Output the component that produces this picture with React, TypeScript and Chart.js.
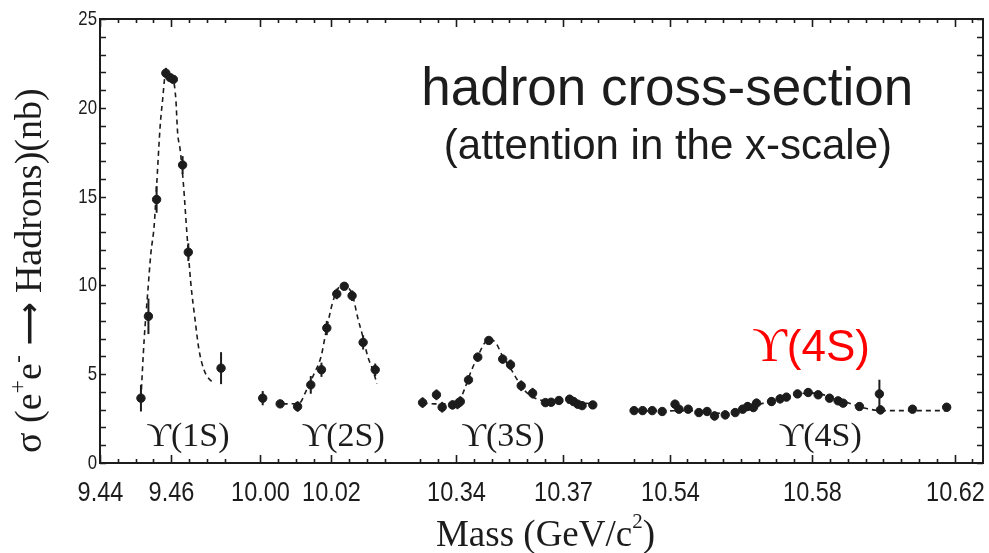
import React, { useEffect, useRef } from 'react';
import { Chart, registerables } from 'chart.js';
Chart.register(...registerables);

// ---- broken x-axis definition (four mass windows, 0.005 GeV per minor tick) ----
const SEG_START = [9.44, 10.0, 10.33, 10.53];
const SEG_END = [9.475, 10.035, 10.38, 10.625];
const SEG_OFFSET = [0, 9, 18, 30];
const TICK_STEP = 0.005;
const AXIS_MAX = 49.6;
const MAJOR_TICKS = [9.44, 9.46, 10.0, 10.02, 10.34, 10.37, 10.54, 10.58, 10.62];
const MAJOR_LABELS = ['9.44', '9.46', '10.00', '10.02', '10.34', '10.37', '10.54', '10.58', '10.62'];
const Y_TICK_LABELS = [0, 5, 10, 15, 20, 25];

// ---- Upsilon(1S) ----
const ups1Mass = [9.4515, 9.4536, 9.4559, 9.4585, 9.4597, 9.4606, 9.4632, 9.4648, 9.474];
const ups1Sigma = [3.65, 8.26, 14.84, 21.95, 21.7, 21.6, 16.78, 11.87, 5.34];
const ups1Err = [0.75, 1.0, 0.75, 0.3, 0.2, 0.2, 0.5, 0.5, 0.9];
const fit1Mass = [9.4515, 9.4524, 9.4534, 9.4543, 9.4552, 9.4559, 9.4569, 9.4576, 9.4583, 9.4595, 9.4606, 9.4613, 9.4618, 9.4625, 9.4634, 9.4644, 9.4655, 9.4667, 9.4678, 9.4692, 9.4709, 9.4723];
const fit1Sigma = [3.65, 6.94, 9.58, 11.83, 13.34, 15.6, 18.98, 20.48, 21.8, 21.99, 21.6, 20.48, 18.6, 17.66, 15.78, 12.96, 10.14, 8.07, 6.38, 5.25, 4.68, 4.53];

// ---- Upsilon(2S) ----
const ups2Mass = [10.0007, 10.0056, 10.0105, 10.0142, 10.0172, 10.0187, 10.0215, 10.0236, 10.0258, 10.0289, 10.0323];
const ups2Sigma = [3.65, 3.33, 3.18, 4.4, 5.25, 7.6, 9.52, 9.95, 9.42, 6.79, 5.25];
const ups2Err = [0.4, 0.2, 0.3, 0.5, 0.4, 0.4, 0.3, 0.15, 0.3, 0.4, 0.35];
const fit2Mass = [10.0063, 10.011, 10.0128, 10.0152, 10.0171, 10.0185, 10.0203, 10.0217, 10.0231, 10.0246, 10.026, 10.0274, 10.0288, 10.0302, 10.0316, 10.0328];
const fit2Sigma = [3.33, 3.37, 4.02, 5.06, 6.0, 7.41, 9.01, 9.76, 10.05, 9.92, 9.39, 8.17, 7.13, 6.0, 5.25, 4.46];

// ---- Upsilon(3S) ----
const ups3Mass = [10.3306, 10.3345, 10.3361, 10.339, 10.3404, 10.3412, 10.3435, 10.3461, 10.3492, 10.3531, 10.3553, 10.3583, 10.3615, 10.3651, 10.3667, 10.3689, 10.3719, 10.373, 10.3742, 10.3754, 10.3784];
const ups3Sigma = [3.4, 3.84, 3.14, 3.27, 3.33, 3.46, 4.68, 5.96, 6.9, 5.85, 5.53, 4.35, 3.93, 3.4, 3.42, 3.52, 3.59, 3.46, 3.31, 3.23, 3.27];
const ups3Err = [0.3, 0.3, 0.3, 0.25, 0.3, 0.3, 0.25, 0.25, 0.2, 0.25, 0.3, 0.3, 0.3, 0.2, 0.2, 0.2, 0.25, 0.2, 0.2, 0.15, 0.2];
const fit3Mass = [10.3306, 10.3345, 10.3385, 10.3409, 10.3423, 10.3442, 10.3461, 10.348, 10.3494, 10.3512, 10.3531, 10.355, 10.3569, 10.3587, 10.3606, 10.3634, 10.3672, 10.3728, 10.3794];
const fit3Sigma = [3.38, 3.33, 3.33, 3.5, 4.12, 5.15, 6.0, 6.75, 6.98, 6.75, 6.0, 5.43, 4.78, 4.21, 3.84, 3.56, 3.46, 3.4, 3.33];

// ---- Upsilon(4S) ----
const ups4Mass = [10.53, 10.5324, 10.5351, 10.5379, 10.5415, 10.5426, 10.5452, 10.5482, 10.5505, 10.5526, 10.5556, 10.5584, 10.5605, 10.5619, 10.5635, 10.5644, 10.5686, 10.571, 10.5728, 10.5759, 10.5789, 10.5817, 10.5849, 10.5873, 10.5887, 10.5933, 10.5989, 10.5992, 10.6082, 10.6178];
const ups4Sigma = [2.95, 2.95, 2.95, 2.9, 3.31, 3.03, 3.03, 2.84, 2.9, 2.65, 2.71, 2.84, 3.03, 3.18, 3.12, 3.37, 3.46, 3.61, 3.71, 3.89, 3.97, 3.84, 3.65, 3.5, 3.37, 3.18, 3.89, 2.99, 3.03, 3.14];
const ups4Err = [0.15, 0.15, 0.15, 0.15, 0.25, 0.2, 0.2, 0.2, 0.2, 0.25, 0.25, 0.2, 0.2, 0.25, 0.2, 0.25, 0.25, 0.25, 0.2, 0.2, 0.2, 0.2, 0.2, 0.2, 0.2, 0.2, 0.8, 0.25, 0.2, 0.2];
const fit4Mass = [10.53, 10.537, 10.5454, 10.551, 10.5552, 10.5593, 10.5635, 10.5677, 10.5719, 10.5761, 10.5794, 10.583, 10.5872, 10.5914, 10.5956, 10.5998, 10.618];
const fit4Sigma = [2.95, 2.93, 2.95, 2.85, 2.8, 2.95, 3.2, 3.45, 3.7, 3.88, 3.95, 3.85, 3.6, 3.3, 3.05, 2.95, 2.95];

// ---- text labels (data coordinates) ----
const peakLabels = ['ϒ(1S)', 'ϒ(2S)', 'ϒ(3S)', 'ϒ(4S)'];
const peakLabelMass = [9.4647, 10.0233, 10.3532, 10.5823];
const peakLabelSigma = 1.45;

const INK = '#1c1c1c';
const SERIF = "'Liberation Serif', 'Times New Roman', serif";
const SANS = "'Liberation Sans', Arial, sans-serif";

function toAxis(m: number): number {
  let i = 0;
  for (let k = 0; k < SEG_START.length; k++) if (m >= SEG_START[k] - 0.004) i = k;
  return SEG_OFFSET[i] + (m - SEG_START[i]) / TICK_STEP;
}

const tickValues: number[] = [];
const tickMajor: boolean[] = [];
const tickLabel: string[] = [];
SEG_START.forEach((s, i) => {
  const n = Math.round((SEG_END[i] - s) / TICK_STEP);
  for (let j = 0; j <= n; j++) {
    const m = s + j * TICK_STEP;
    const mi = MAJOR_TICKS.findIndex((t) => Math.abs(t - m) < 1e-6);
    tickValues.push(toAxis(m));
    tickMajor.push(mi >= 0);
    tickLabel.push(mi >= 0 ? MAJOR_LABELS[mi] : '');
  }
});

function pts(mass: number[], sig: number[], err?: number[]) {
  return mass.map((m, i) => ({ x: toAxis(m), y: sig[i], err: err ? err[i] : 0 }));
}

const allPoints = [
  ...pts(ups1Mass, ups1Sigma, ups1Err),
  ...pts(ups2Mass, ups2Sigma, ups2Err),
  ...pts(ups3Mass, ups3Sigma, ups3Err),
  ...pts(ups4Mass, ups4Sigma, ups4Err),
];

const fitStyle = {
  type: 'line' as const,
  borderColor: INK,
  borderWidth: 1.6,
  borderDash: [5, 4],
  pointRadius: 0,
  cubicInterpolationMode: 'monotone' as const,
  fill: false,
};

// draw text horizontally condensed (narrow face look)
function narrowText(ctx: any, s: string, x: number, y: number, size: number, squeeze: number, align: string) {
  ctx.save();
  ctx.font = `${size}px ${SANS}`;
  ctx.textAlign = align;
  ctx.textBaseline = 'middle';
  ctx.translate(x, y);
  ctx.scale(squeeze, 1);
  ctx.fillText(s, 0, 0);
  ctx.restore();
}

const decorPlugin = {
  id: 'decor',
  afterDatasetsDraw(chart: any) {
    const { ctx, scales } = chart;
    const x = scales.x;
    const y = scales.y;
    ctx.save();
    ctx.strokeStyle = INK;
    ctx.lineWidth = 2;
    chart.data.datasets[0].data.forEach((d: any) => {
      if (!d.err) return;
      const px = x.getPixelForValue(d.x);
      ctx.beginPath();
      ctx.moveTo(px, y.getPixelForValue(d.y - d.err));
      ctx.lineTo(px, y.getPixelForValue(d.y + d.err));
      ctx.stroke();
    });
    ctx.restore();
  },
  afterDraw(chart: any) {
    const { ctx, chartArea: a, scales } = chart;
    const x = scales.x;
    const y = scales.y;
    ctx.save();
    // frame
    ctx.strokeStyle = INK;
    ctx.lineWidth = 2;
    ctx.strokeRect(a.left, a.top, a.right - a.left, a.bottom - a.top);
    // x ticks (inward, bottom and top) + labels
    ctx.lineWidth = 1.6;
    ctx.fillStyle = INK;
    tickValues.forEach((v, i) => {
      const px = Math.round(x.getPixelForValue(v)) + 0.5;
      const len = tickMajor[i] ? 8 : 4;
      ctx.beginPath();
      ctx.moveTo(px, a.bottom);
      ctx.lineTo(px, a.bottom - len);
      ctx.moveTo(px, a.top);
      ctx.lineTo(px, a.top + len);
      ctx.stroke();
      if (tickLabel[i]) narrowText(ctx, tickLabel[i], px, a.bottom + 30, 28, 0.84, 'center');
    });
    // y ticks (inward, left and right) + labels
    for (let v = 0; v <= 25; v++) {
      const py = Math.round(y.getPixelForValue(v)) + 0.5;
      const len = 6;
      ctx.beginPath();
      ctx.moveTo(a.left, py);
      ctx.lineTo(a.left + len, py);
      ctx.moveTo(a.right, py);
      ctx.lineTo(a.right - len, py);
      ctx.stroke();
      if (Y_TICK_LABELS.includes(v)) narrowText(ctx, String(v), a.left - 3, py, 21, 0.8, 'right');
    }

    // peak labels
    ctx.fillStyle = INK;
    ctx.textAlign = 'center';
    ctx.textBaseline = 'middle';
    ctx.font = `34px ${SERIF}`;
    peakLabels.forEach((t, i) => {
      ctx.fillText(t, x.getPixelForValue(toAxis(peakLabelMass[i])), y.getPixelForValue(peakLabelSigma));
    });

    // headline text
    ctx.textBaseline = 'alphabetic';
    ctx.font = `53px ${SANS}`;
    ctx.fillText('hadron cross-section', x.getPixelForValue(toAxis(10.5393)), y.getPixelForValue(20.15));
    ctx.font = `42px ${SANS}`;
    ctx.fillText('(attention in the x-scale)', x.getPixelForValue(toAxis(10.5395)), y.getPixelForValue(17.1));

    // red Y(4S): serif upsilon + sans (4S)
    ctx.fillStyle = '#ff0000';
    ctx.textAlign = 'left';
    const upsFont = `48px ${SERIF}`;
    const restFont = `44px ${SANS}`;
    ctx.font = upsFont;
    const wu = ctx.measureText('ϒ').width;
    ctx.font = restFont;
    const wr = ctx.measureText('(4S)').width;
    const rcx = x.getPixelForValue(toAxis(10.5797));
    const rby = y.getPixelForValue(5.75);
    ctx.font = upsFont;
    ctx.fillText('ϒ', rcx - (wu + wr) / 2, rby);
    ctx.font = restFont;
    ctx.fillText('(4S)', rcx - (wu + wr) / 2 + wu, rby);

    // x title with superscript
    ctx.fillStyle = INK;
    ctx.textAlign = 'left';
    const big = `37px ${SERIF}`;
    const small = `21px ${SERIF}`;
    ctx.font = big;
    const p1 = 'Mass (GeV/c';
    const p3 = ')';
    const w1 = ctx.measureText(p1).width;
    const w3 = ctx.measureText(p3).width;
    ctx.font = small;
    const w2 = ctx.measureText('2').width;
    const total = w1 + w2 + w3;
    const cx = (a.left + a.right) / 2 + 4;
    let sx = cx - total / 2;
    const by = 546;
    ctx.font = big;
    ctx.fillText(p1, sx, by);
    sx += w1;
    ctx.font = small;
    ctx.fillText('2', sx, by - 18);
    sx += w2;
    ctx.font = big;
    ctx.fillText(p3, sx, by);

    // y title (rotated) with superscripts and a long arrow
    ctx.save();
    ctx.translate(41, 453);
    ctx.rotate(-Math.PI / 2);
    const parts: [string, string][] = [
      ['σ (e', 'n'],
      ['+', 's'],
      ['e', 'n'],
      ['-', 's'],
      [' ', 'n'],
      ['⟶', 'a'],
      [' Hadrons)(nb)', 'n'],
    ];
    let tx = 0;
    parts.forEach(([s, kind]) => {
      if (kind === 's') ctx.font = `24px ${SERIF}`;
      else if (kind === 'a') ctx.font = `bold 30px 'DejaVu Sans', sans-serif`;
      else ctx.font = `38px ${SERIF}`;
      ctx.fillText(s, tx, kind === 's' ? -16 : kind === 'a' ? -2 : 0);
      tx += ctx.measureText(s).width;
    });
    ctx.restore();

    ctx.restore();
  },
};

export default function App() {
  const ref = useRef<HTMLCanvasElement>(null);
  useEffect(() => {
    const chart = new Chart(ref.current as HTMLCanvasElement, {
      type: 'scatter',
      data: {
        datasets: [
          {
            type: 'scatter',
            data: allPoints,
            backgroundColor: INK,
            borderColor: INK,
            pointRadius: 4.2,
            pointStyle: 'circle',
          } as any,
          { ...fitStyle, data: pts(fit1Mass, fit1Sigma) } as any,
          { ...fitStyle, data: pts(fit2Mass, fit2Sigma) } as any,
          { ...fitStyle, data: pts(fit3Mass, fit3Sigma) } as any,
          { ...fitStyle, data: pts(fit4Mass, fit4Sigma) } as any,
        ],
      },
      options: {
        animation: false,
        responsive: false,
        layout: { padding: { top: 19, right: 6, left: 0, bottom: 0 } },
        plugins: { legend: { display: false }, tooltip: { enabled: false } },
        scales: {
          x: {
            type: 'linear',
            min: 0,
            max: AXIS_MAX,
            afterBuildTicks: (s: any) => {
              s.ticks = tickValues.map((v) => ({ value: v }));
            },
            afterFit: (s: any) => {
              s.height = 90;
            },
            grid: { display: false, drawTicks: false },
            border: { display: false },
            ticks: { display: false, autoSkip: false },
          },
          y: {
            type: 'linear',
            min: 0,
            max: 25,
            afterFit: (s: any) => {
              s.width = 100;
            },
            grid: { display: false, drawTicks: false },
            border: { display: false },
            ticks: { display: false, stepSize: 1, autoSkip: false },
          },
        },
      },
      plugins: [decorPlugin],
    } as any);
    return () => chart.destroy();
  }, []);
  return (
    <canvas
      ref={ref}
      width={989}
      height={553}
      style={{ position: 'absolute', left: 0, top: 0, width: 989, height: 553 }}
    />
  );
}
